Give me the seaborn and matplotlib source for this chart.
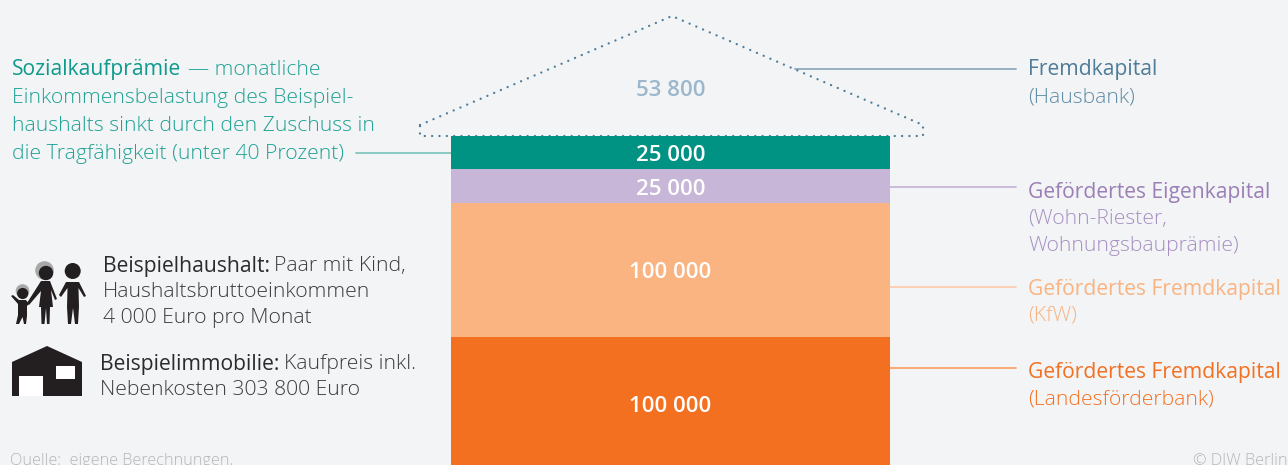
import matplotlib
matplotlib.use("Agg")
import matplotlib.pyplot as plt
from matplotlib.patches import Polygon, Circle, Rectangle
import seaborn as sns

sns.set_theme(style="white")
plt.rcParams['font.family'] = ['Open Sans', 'DejaVu Sans']

segments = ["Landesförderbank", "KfW", "Eigenkapital", "Zuschuss"]
values = [100000, 100000, 25000, 25000]
value_labels = ["100 000", "100 000", "25 000", "25 000"]
colors = ["#F47021", "#F9B482", "#C7B6D8", "#009384"]
roof_label = "53 800"

BG = "#F2F4F6"
W, H = 1288, 465
fig = plt.figure(figsize=(W/100, H/100), dpi=100, facecolor=BG)

# overlay in pixel space
ov = fig.add_axes([0, 0, 1, 1], facecolor=BG)
ov.set_xlim(0, W); ov.set_ylim(H, 0); ov.axis("off")

# bar axes
x0, x1, top, bottom = 451, 890, 136, 465
ax = fig.add_axes([x0/W, 1-bottom/H, (x1-x0)/W, (bottom-top)/H], facecolor="none", zorder=2)
cum = 0
for s, v, c, l in zip(segments, values, colors, value_labels):
    sns.barplot(x=["stack"], y=[v], bottom=cum, color=c, width=1.0, saturation=1, ax=ax, linewidth=0)
    ax.text(0, cum + v/2 - 2300, l, ha="center", va="center", color="white",
            fontsize=16.0, fontweight="semibold")
    cum += v
ax.set_xlim(-0.5, 0.5)
ax.set_ylim(4200, cum)
ax.axis("off")

# roof
roof_x = [420, 672, 923, 923, 420, 420]
roof_y = [125, 16, 125, 136, 136, 125]
ov.plot(roof_x, roof_y, color="#4F7C97", lw=1.7, ls=(0, (0.01, 3.1)), dash_capstyle="round", zorder=3)
ov.text(671, 91, roof_label, ha="center", va="center", color="#9CB7CB", fontsize=16.0, fontweight="semibold")

# leader lines
ov.plot([795, 1016], [69, 69], color="#8FAABB", lw=1.3)
ov.plot([356, 451], [153, 153], color="#7FC6BE", lw=1.3)
ov.plot([890, 1016], [187.5, 187.5], color="#C7B6D8", lw=1.3)
ov.plot([890, 1016], [287, 287], color="#FBCDB0", lw=1.3)
ov.plot([890, 1016], [368, 368], color="#F9A36C", lw=1.3)

fs = 15.2
def t(x, y, s, c, w="normal", size=fs, **k):
    return ov.text(x, y, s, color=c, fontsize=size, fontweight=w, va="center", ha="left", **k)

# left teal text
teal, teal_l = "#0E9A8C", "#1FA194"
t(12, 70, "Sozialkaufprämie", teal, "normal")
t(188, 70, "— monatliche", teal_l, "light")
t(12, 98, "Einkommensbelastung des Beispiel-", teal_l, "light")
t(12, 126, "haushalts sinkt durch den Zuschuss in", teal_l, "light")
t(12, 154, "die Tragfähigkeit (unter 40 Prozent)", teal_l, "light")

# right labels
t(1028, 70, "Fremdkapital", "#4F7C97")
t(1028, 97, "(Hausbank)", "#5F8BA6", "light")
t(1028, 192, "Gefördertes Eigenkapital", "#9B7FB6")
t(1028, 219, "(Wohn-Riester,", "#A88FC2", "light")
t(1028, 246, "Wohnungsbauprämie)", "#A88FC2", "light")
t(1028, 289, "Gefördertes Fremdkapital", "#F9B482")
t(1028, 315, "(KfW)", "#F9B482", "light")
t(1028, 372, "Gefördertes Fremdkapital", "#F47021")
t(1028, 399, "(Landesförderbank)", "#F47021", "light")

# lower-left text
dark = "#2B2B2D"; mid = "#3C3C3E"
t(103, 266, "Beispielhaushalt:", dark, "normal")
t(274, 266, "Paar mit Kind,", mid, "light")
t(103, 292, "Haushaltsbruttoeinkommen", mid, "light")
t(103, 318, "4 000 Euro pro Monat", mid, "light")
t(100, 364, "Beispielimmobilie:", dark, "normal")
t(284, 364, "Kaufpreis inkl.", mid, "light")
t(100, 390, "Nebenkosten 303 800 Euro", mid, "light")

# source
t(10, 461, "Quelle:  eigene Berechnungen.", "#B4B6B8", "light", size=11.7)
t(1193, 461, "© DIW Berlin", "#B4B6B8", "light", size=11.7)

# house icon
ic = "#231F20"
ov.add_patch(Polygon([(12, 362), (47, 346), (82, 362), (82, 396), (12, 396)], fc=ic, ec="none"))
ov.add_patch(Rectangle((19, 376), 24, 20, fc="white", ec="none"))
ov.add_patch(Rectangle((56, 366), 19, 13, fc="white", ec="none"))

# family icon
gr = "#A8A8A8"
ov.add_patch(Circle((44.5, 270.5), 9.3, fc=gr, ec="none"))
ov.add_patch(Circle((22.5, 291), 6.8, fc=gr, ec="none"))
ov.add_patch(Circle((46, 273), 7.2, fc=ic, ec="none"))
ov.add_patch(Circle((72.7, 271), 8, fc=ic, ec="none"))
ov.add_patch(Circle((22.7, 293.5), 5.6, fc=ic, ec="none"))
# father
ov.add_patch(Polygon([(66, 282), (79, 282), (86, 296), (84, 297), (78.5, 288), (79, 307), (78, 324), (75, 324), (73, 308),
                      (71, 324), (68, 324), (67, 307), (67.5, 288), (61, 297), (59, 295)], fc=ic, ec="none"))
# mother
ov.add_patch(Polygon([(41, 281), (50, 281), (57, 299), (55, 300), (51, 290), (53, 307), (50, 307), (49.5, 324), (47, 324),
                      (46, 308), (44.5, 324), (41.5, 324), (41, 307), (39, 307), (41, 291), (29, 305), (27, 303)], fc=ic, ec="none"))
# child
ov.add_patch(Polygon([(11, 296), (13, 295), (19, 300), (26, 300), (29, 304), (27, 306), (27, 316), (26, 324),
                      (24, 324), (22.5, 317), (19, 324), (16, 324), (18, 315), (18, 304)], fc=ic, ec="none"))

fig.savefig("out.png", dpi=100, facecolor=BG)
